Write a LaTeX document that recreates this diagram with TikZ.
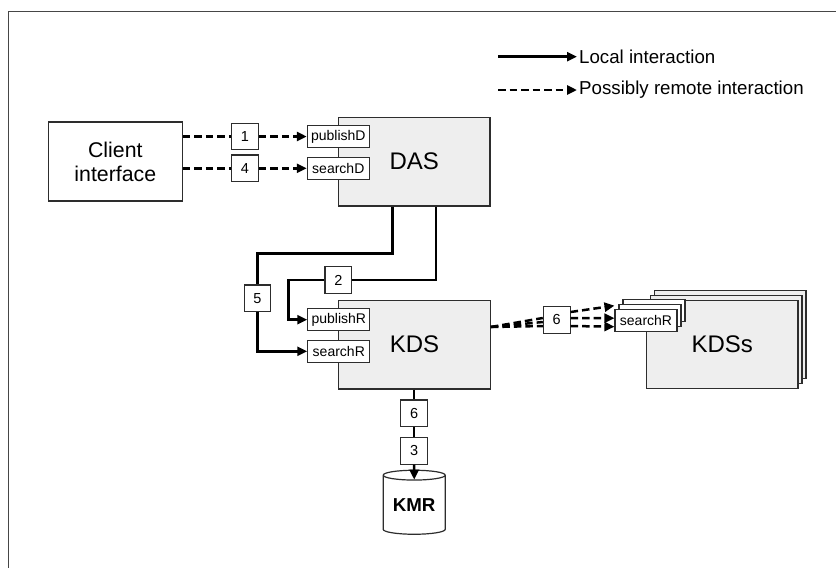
\documentclass[tikz,border=0pt]{standalone}
\usepackage{fontspec}
\setmainfont{Liberation Sans}
\usetikzlibrary{arrows.meta,shapes.geometric,calc}
\definecolor{boxgray}{RGB}{238,238,238}
\definecolor{edgegray}{RGB}{45,45,45}
\definecolor{framegray}{RGB}{70,70,70}
\tikzset{
  comp/.style={draw=edgegray, fill=boxgray, line width=1.2pt, minimum width=151.5pt, minimum height=88.7pt, inner sep=0pt, font=\fontsize{24}{28}\selectfont},
  port/.style={draw=edgegray, fill=white, line width=1.1pt, minimum width=62pt, minimum height=22pt, inner sep=0pt, font=\fontsize{14}{16}\selectfont},
  numbox/.style={draw=edgegray, fill=white, line width=1.1pt, minimum size=26.7pt, inner sep=0pt, font=\fontsize{14.5}{16}\selectfont},
  localline/.style={line width=2.5pt},
  remoteline/.style={line width=2.5pt, dash pattern=on 7.5pt off 4pt},
  >={Triangle[length=10pt,width=9pt]}
}
\begin{document}
\begin{tikzpicture}[x=1pt,y=-1pt]
\useasboundingbox (0,0) rectangle (836,568);
\draw[framegray, line width=1.3pt] (8.5,568) -- (8.5,11.5) -- (836,11.5);

\coordinate (locstart) at (498,56.7);
\coordinate (remstart) at (498,90);
\node[right, inner sep=2pt, font=\fontsize{18.7}{22}\selectfont] (loctext) at (577,56.7) {Local interaction};
\node[right, inner sep=2pt, font=\fontsize{18.7}{22}\selectfont] (remtext) at (577,90) {Possibly remote interaction};
\draw[localline,->] (locstart) -- (loctext.west);
\draw[remoteline,->] (remstart) -- (remtext.west);

\node[draw=edgegray, fill=white, line width=1.2pt, minimum width=134pt, minimum height=79pt, align=center, font=\fontsize{21.3}{24}\selectfont] (client) at (115.3,161.5) {Client\\interface};
\node[comp] (das) at (414.2,161.6) {DAS};
\node[port] (pubD) at (338.3,136.5) {publishD};
\node[port] (seaD) at (338.3,168.3) {searchD};

\node[comp] (kds) at (414.5,344.7) {KDS};
\node[port] (pubR) at (338.8,319.7) {publishR};
\node[port] (seaR) at (338.8,351.3) {searchR};

\node[comp] (kdsC) at (730.2,334.5) {};
\node[comp] (kdsB) at (726.2,339.5) {};
\node[comp] (kdsA) at (722.2,344.5) {KDSs};
\node[port] (seaKc) at (654,310.2) {};
\node[port] (seaKb) at (650,315.2) {};
\node[port] (seaKa) at (646,320.2) {searchR};

\node[numbox] (n1) at (245,136.5) {1};
\node[numbox] (n4) at (245,168.3) {4};
\node[numbox] (n2) at (338.3,280) {2};
\node[numbox] (n5) at (257.5,298.3) {5};
\node[numbox] (n6r) at (556.7,320) {6};
\node[numbox] (n6d) at (414.2,413.3) {6};
\node[numbox] (n3) at (414.2,450.7) {3};

\node[cylinder, draw=edgegray, fill=white, line width=1.2pt, shape border rotate=90, aspect=0.23, minimum height=64pt, minimum width=62pt, inner sep=0pt, font=\bfseries\fontsize{18.7}{20}\selectfont] (kmr) at (414.2,505) {KMR};

\draw[remoteline] (client.east |- n1.west) -- (n1.west);
\draw[remoteline,->] (n1.east) -- (pubD.west);
\draw[remoteline] (client.east |- n4.west) -- (n4.west);
\draw[remoteline,->] (n4.east) -- (seaD.west);

\draw[localline] ([xshift=-21.5pt]das.south) -- ++(0,46.7) -| (n5.north);
\draw[localline,->] (n5.south) |- (seaR.west);
\draw[localline] ([xshift=21.8pt]das.south) |- (n2.east);
\draw[localline,->] (n2.west) -- ++(-35.7,0) |- (pubR.west);

\draw[localline] (kds.south -| n6d) -- (n6d.north);
\draw[localline] (n6d.south) -- (n3.north);
\draw[localline,->] (n3.south) -- ([yshift=-10pt]kmr.north);

\draw[remoteline] ($(kds.east |- n6r)+(0,7)$) -- ([yshift=2pt]n6r.west);
\draw[remoteline] ($(kds.east |- n6r)+(0,7)$) -- ([yshift=-2pt]n6r.west);
\draw[remoteline] ($(kds.east |- n6r)+(0,7)$) -- ([yshift=-6pt]n6r.west);
\draw[remoteline,->] ([yshift=8pt]n6r.east) -- ([yshift=3pt]seaKa.north west);
\draw[remoteline,->] ([yshift=2pt]n6r.east) -- ([yshift=2pt]seaKa.west);
\draw[remoteline,->] ([yshift=-6pt]n6r.east) -- ([yshift=-6.5pt]seaKa.west);
\end{tikzpicture}
\end{document}
